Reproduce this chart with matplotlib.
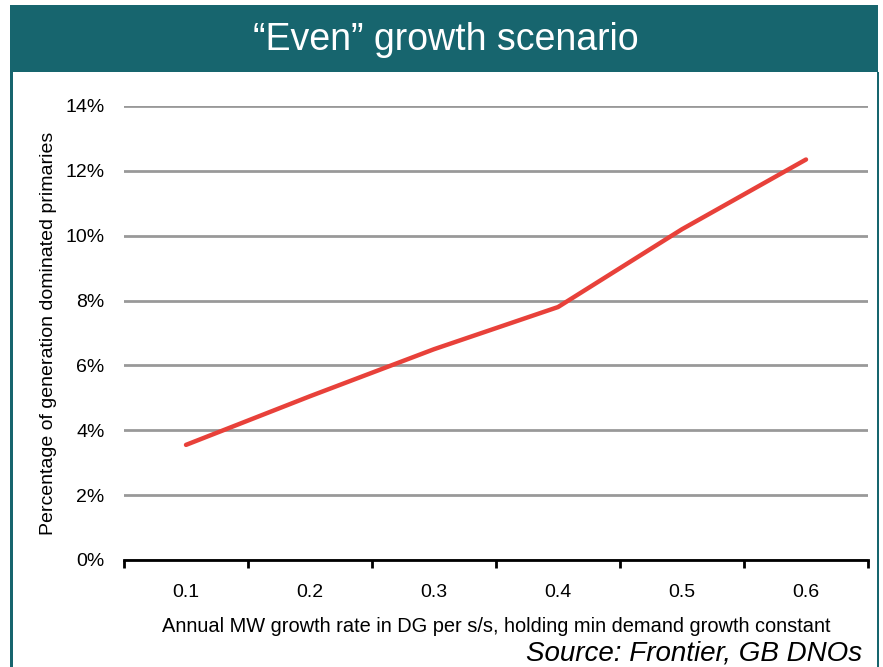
import matplotlib
matplotlib.use("Agg")
import matplotlib.pyplot as plt
from matplotlib.patches import Rectangle
from matplotlib.ticker import FixedLocator, PercentFormatter

plt.rcParams["font.family"] = ["Liberation Sans", "DejaVu Sans"]

growth = ["0.1", "0.2", "0.3", "0.4", "0.5", "0.6"]
share = [0.0355, 0.0505, 0.065, 0.078, 0.102, 0.1235]

teal = "#17656E"
red = "#E8413A"

fig = plt.figure(figsize=(8.83, 6.67), dpi=100)

# banner and frame
fig.patches.append(Rectangle((10 / 883, 1 - 72 / 667), 868 / 883, 67 / 667,
                             transform=fig.transFigure, facecolor=teal,
                             edgecolor="none", zorder=0))
fig.patches.append(Rectangle((10 / 883, -0.01), 3 / 883, 1 - 72 / 667 + 0.01,
                             transform=fig.transFigure, facecolor=teal,
                             edgecolor="none", zorder=0))
fig.patches.append(Rectangle((877 / 883, -0.01), 2 / 883, 1 - 72 / 667 + 0.01,
                             transform=fig.transFigure, facecolor=teal,
                             edgecolor="none", zorder=0))
fig.text(446 / 883, 1 - 40 / 667, "\u201cEven\u201d growth scenario",
         color="white", fontsize=27, ha="center", va="center")

ax = fig.add_axes([124 / 883, 1 - 560 / 667, 744 / 883, 454 / 667])
x = list(range(len(growth)))
ax.plot(x, share, color=red, lw=3.2, solid_capstyle="round",
        solid_joinstyle="round", zorder=3)

ax.set_xlim(-0.5, len(growth) - 0.5)
ax.set_ylim(0, 0.14)
ax.set_yticks([i * 0.02 for i in range(8)])
ax.yaxis.set_major_formatter(PercentFormatter(1.0, decimals=0))
ax.yaxis.grid(True, color="#999999", lw=2)
ax.set_axisbelow(True)

ax.xaxis.set_major_locator(FixedLocator([i - 0.5 for i in range(len(growth) + 1)]))
ax.xaxis.set_major_formatter(plt.NullFormatter())
ax.xaxis.set_minor_locator(FixedLocator(x))
ax.set_xticklabels(growth, minor=True)
ax.tick_params(axis="x", which="major", direction="out", length=6, width=2,
               color="black")
ax.tick_params(axis="x", which="minor", length=0, pad=17, labelsize=14)
ax.tick_params(axis="y", length=0, pad=14, labelsize=14)

for side in ["top", "right", "left"]:
    ax.spines[side].set_visible(False)
ax.spines["bottom"].set_linewidth(2)

ax.set_xlabel("Annual MW growth rate in DG per s/s, holding min demand growth constant",
              fontsize=14.4, labelpad=12)
ax.set_ylabel("Percentage of generation dominated primaries", fontsize=14,
              labelpad=6)

fig.text(862 / 883, 1 - 653 / 667, "Source: Frontier, GB DNOs", fontsize=20,
         style="italic", ha="right", va="center")

fig.savefig("out.png", dpi=100)
